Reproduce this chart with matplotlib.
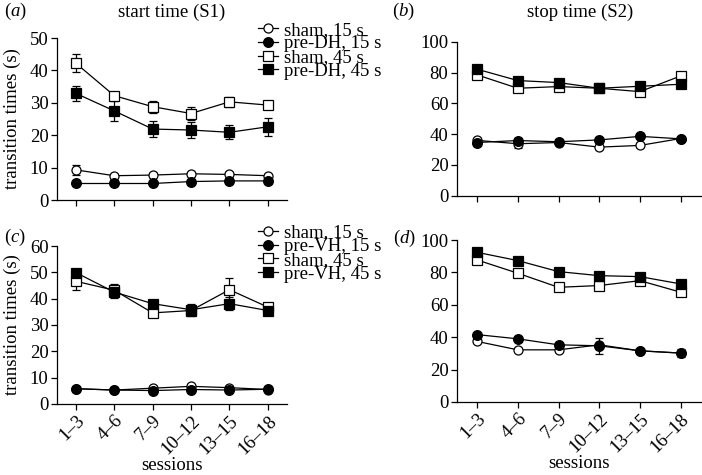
import matplotlib
matplotlib.use("Agg")
import matplotlib.pyplot as plt
from matplotlib.lines import Line2D
import numpy as np

plt.rcParams['font.family'] = ['Liberation Serif', 'DejaVu Serif']
plt.rcParams['mathtext.fontset'] = 'custom'
plt.rcParams['mathtext.rm'] = 'Liberation Serif'
plt.rcParams['mathtext.it'] = 'Liberation Serif:italic'

sessions = ['1–3', '4–6', '7–9', '10–12', '13–15', '16–18']

# (a) start time S1, DH
a_sham15 = [9.3, 7.5, 7.7, 8.1, 7.9, 7.5]
a_sham15_err = [1.5, 0.6, 0.6, 0.6, 0.6, 0.6]
a_pre15 = [5.1, 5.1, 5.1, 5.7, 5.9, 5.9]
a_pre15_err = [0.5, 0.4, 0.4, 0.5, 0.5, 0.5]
a_sham45 = [42.2, 32.2, 28.8, 26.7, 30.3, 29.3]
a_sham45_err = [2.8, 1.0, 1.9, 2.1, 1.5, 1.3]
a_pre45 = [32.9, 27.5, 21.9, 21.6, 20.9, 22.6]
a_pre45_err = [2.2, 3.0, 2.5, 2.5, 2.2, 2.8]

# (b) stop time S2, DH
b_sham15 = [36.0, 33.8, 34.6, 31.6, 32.7, 37.2]
b_sham15_err = [1.0, 3.0, 1.0, 1.0, 1.0, 1.0]
b_pre15 = [34.6, 35.9, 35.1, 36.3, 38.6, 37.0]
b_pre15_err = [1.0, 1.5, 1.0, 1.0, 1.0, 1.0]
b_sham45 = [78.6, 69.9, 71.0, 69.9, 67.7, 77.9]
b_sham45_err = [1.5, 1.5, 1.5, 1.5, 1.5, 1.5]
b_pre45 = [82.3, 74.9, 73.6, 69.9, 71.2, 72.5]
b_pre45_err = [1.5, 1.5, 1.5, 1.5, 1.5, 1.5]

# (c) start time S1, VH
c_sham15 = [5.8, 5.3, 6.0, 6.7, 6.2, 5.5]
c_sham15_err = [0.5, 0.5, 0.5, 0.6, 0.5, 0.5]
c_pre15 = [5.8, 5.3, 5.1, 5.5, 5.3, 5.6]
c_pre15_err = [0.5, 0.5, 0.5, 0.5, 0.5, 0.5]
c_sham45 = [46.6, 43.2, 34.6, 35.5, 43.4, 36.8]
c_sham45_err = [3.2, 2.5, 1.5, 2.0, 4.6, 1.5]
c_pre45 = [49.9, 42.5, 38.1, 35.8, 38.1, 35.5]
c_pre45_err = [1.0, 2.2, 1.5, 2.0, 2.5, 1.5]

# (d) stop time S2, VH
d_sham15 = [37.4, 32.2, 32.2, 35.3, 31.6, 30.2]
d_sham15_err = [1.0, 1.0, 1.0, 1.0, 1.0, 1.0]
d_pre15 = [41.6, 39.0, 35.3, 34.7, 31.6, 30.2]
d_pre15_err = [1.0, 1.0, 1.0, 4.8, 1.0, 2.5]
d_sham45 = [87.7, 79.5, 70.8, 71.9, 74.9, 67.8]
d_sham45_err = [1.5, 1.5, 1.5, 1.5, 2.5, 1.5]
d_pre45 = [92.4, 87.3, 80.5, 78.0, 77.4, 72.9]
d_pre45_err = [1.5, 1.5, 1.5, 1.5, 1.5, 1.5]

labels_dh = ['sham, 15 s', 'pre-DH, 15 s', 'sham, 45 s', 'pre-DH, 45 s']
labels_vh = ['sham, 15 s', 'pre-VH, 15 s', 'sham, 45 s', 'pre-VH, 45 s']

FS = 13.5
fig = plt.figure(figsize=(7.02, 4.75), dpi=100)

positions = {
    'a': [0.0808, 0.5789, 0.3280, 0.3411],
    'b': [0.6506, 0.5880, 0.3480, 0.3236],
    'c': [0.0808, 0.1495, 0.3280, 0.3326],
    'd': [0.6506, 0.1537, 0.3480, 0.3410],
}

styles = [
    dict(marker='o', mfc='white', ms=6.5),
    dict(marker='o', mfc='black', ms=7),
    dict(marker='s', mfc='white', ms=6.5),
    dict(marker='s', mfc='black', ms=6.5),
]

def draw(ax, series, errs, ylim, yticks):
    x = np.arange(len(sessions))
    for s, e, st in zip(series, errs, styles):
        ax.errorbar(x, s, yerr=e, color='black', lw=0.9, elinewidth=0.9,
                    capsize=3, capthick=0.9, marker=st['marker'],
                    mfc=st['mfc'], mec='black', mew=0.9, ms=st['ms'])
    ax.set_xlim(-0.5, 5.5)
    ax.set_ylim(*ylim)
    ax.set_yticks(yticks)
    ax.set_xticks(x)
    for sp in ['top', 'right']:
        ax.spines[sp].set_visible(False)
    for sp in ['left', 'bottom']:
        ax.spines[sp].set_linewidth(0.9)
    ax.tick_params(direction='out', length=4, width=0.9, labelsize=FS, pad=2)

axa = fig.add_axes(positions['a'])
draw(axa, [a_sham15, a_pre15, a_sham45, a_pre45],
     [a_sham15_err, a_pre15_err, a_sham45_err, a_pre45_err],
     (0, 50), [0, 10, 20, 30, 40, 50])
axa.set_xticklabels([])
axa.set_ylabel('transition times (s)', fontsize=FS, labelpad=6)

axb = fig.add_axes(positions['b'])
draw(axb, [b_sham15, b_pre15, b_sham45, b_pre45],
     [b_sham15_err, b_pre15_err, b_sham45_err, b_pre45_err],
     (0, 100), [0, 20, 40, 60, 80, 100])
axb.set_xticklabels([])

axc = fig.add_axes(positions['c'])
draw(axc, [c_sham15, c_pre15, c_sham45, c_pre45],
     [c_sham15_err, c_pre15_err, c_sham45_err, c_pre45_err],
     (0, 60), [0, 10, 20, 30, 40, 50, 60])
axc.set_xticklabels(sessions, rotation=45, ha='right', rotation_mode='anchor')
axc.set_ylabel('transition times (s)', fontsize=FS, labelpad=6)
axc.set_xlabel('sessions', fontsize=FS, labelpad=0)

axd = fig.add_axes(positions['d'])
draw(axd, [d_sham15, d_pre15, d_sham45, d_pre45],
     [d_sham15_err, d_pre15_err, d_sham45_err, d_pre45_err],
     (0, 100), [0, 20, 40, 60, 80, 100])
axd.set_xticklabels(sessions, rotation=45, ha='right', rotation_mode='anchor')
axd.set_xlabel('sessions', fontsize=FS, labelpad=0)

leg_kw = dict(frameon=False, fontsize=FS, handlelength=1.1, handletextpad=0.3,
              labelspacing=-0.18, borderpad=0, borderaxespad=0, loc='upper left')

def leg_handles():
    return [Line2D([], [], color='black', lw=0.9, marker=st['marker'],
                   mfc=st['mfc'], mec='black', mew=0.9, ms=st['ms'])
            for st in styles]

fig.legend(leg_handles(), labels_dh, bbox_to_anchor=(0.367, 0.9545), **leg_kw)
fig.legend(leg_handles(), labels_vh, bbox_to_anchor=(0.367, 0.528), **leg_kw)

fig.text(0.245, 0.975, 'start time (S1)', fontsize=FS, ha='center', va='center')
fig.text(0.826, 0.975, 'stop time (S2)', fontsize=FS, ha='center', va='center')
fig.text(0.005, 0.975, r'($\it{a}$)', fontsize=FS, ha='left', va='center')
fig.text(0.558, 0.975, r'($\it{b}$)', fontsize=FS, ha='left', va='center')
fig.text(0.005, 0.50, r'($\it{c}$)', fontsize=FS, ha='left', va='center')
fig.text(0.56, 0.497, r'($\it{d}$)', fontsize=FS, ha='left', va='center')

fig.savefig('out.png', dpi=100)
